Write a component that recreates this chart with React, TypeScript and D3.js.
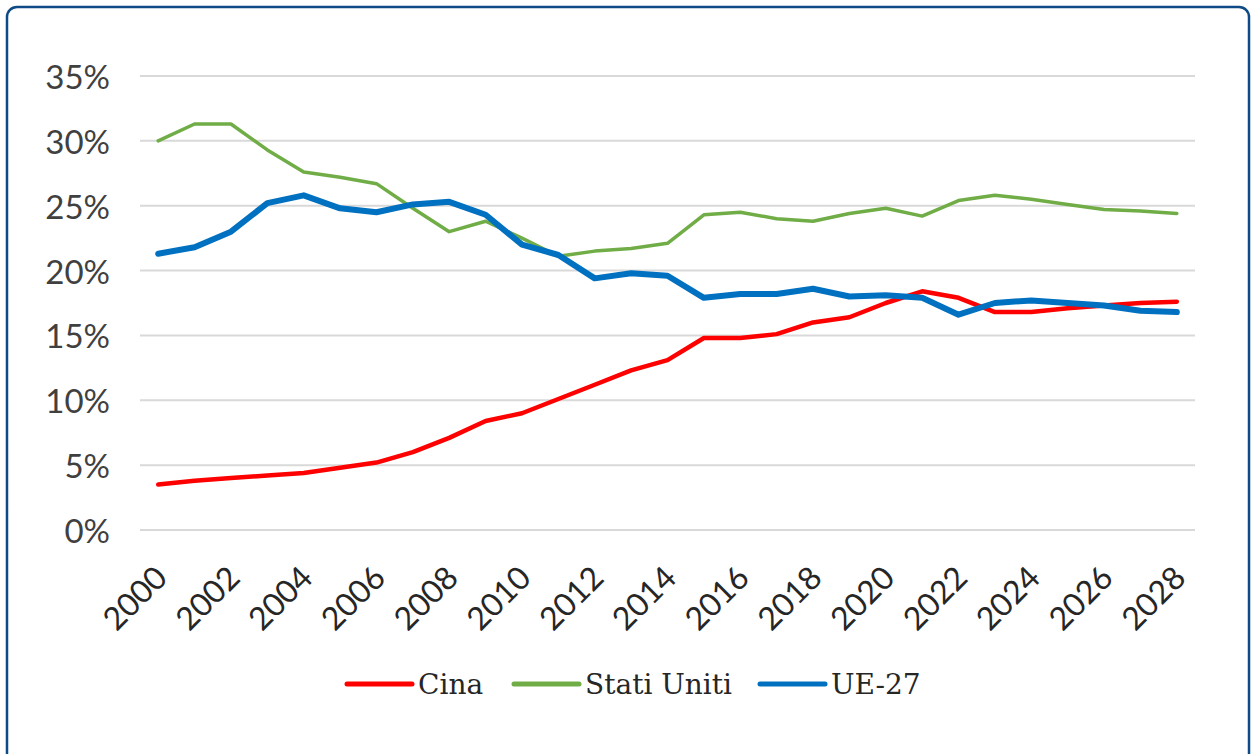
import React from "react";
import { scaleBand, scaleLinear, line } from "d3";

// anni 2000-2028
const years = [
  2000, 2001, 2002, 2003, 2004, 2005, 2006, 2007, 2008, 2009, 2010, 2011,
  2012, 2013, 2014, 2015, 2016, 2017, 2018, 2019, 2020, 2021, 2022, 2023,
  2024, 2025, 2026, 2027, 2028,
];

const cina = [
  3.5, 3.8, 4.0, 4.2, 4.4, 4.8, 5.2, 6.0, 7.1, 8.4, 9.0, 10.1, 11.2, 12.3,
  13.1, 14.8, 14.8, 15.1, 16.0, 16.4, 17.5, 18.4, 17.9, 16.8, 16.8, 17.1,
  17.3, 17.5, 17.6,
];

const statiUniti = [
  30.0, 31.3, 31.3, 29.3, 27.6, 27.2, 26.7, 24.8, 23.0, 23.8, 22.5, 21.1,
  21.5, 21.7, 22.1, 24.3, 24.5, 24.0, 23.8, 24.4, 24.8, 24.2, 25.4, 25.8,
  25.5, 25.1, 24.7, 24.6, 24.4,
];

const ue27 = [
  21.3, 21.8, 23.0, 25.2, 25.8, 24.8, 24.5, 25.1, 25.3, 24.3, 22.0, 21.2,
  19.4, 19.8, 19.6, 17.9, 18.2, 18.2, 18.6, 18.0, 18.1, 17.9, 16.6, 17.5,
  17.7, 17.5, 17.3, 16.9, 16.8,
];

const yTicks = [0, 5, 10, 15, 20, 25, 30, 35];
const xTicks = years.filter((y) => y % 2 === 0);

const series = [
  { name: "Cina", values: cina, color: "#ff0000", width: 4.5 },
  { name: "Stati Uniti", values: statiUniti, color: "#70ad47", width: 3.5 },
  { name: "UE-27", values: ue27, color: "#0070c0", width: 6 },
];

const width = 1251;
const height = 754;
const margin = { left: 140, right: 56, top: 76, bottom: 224 };

// posizione di ogni voce di legenda (larghezza testo stimata)
const legendX = [347, 514, 760];

const App = () => {
  const innerWidth = width - margin.left - margin.right;
  const innerHeight = height - margin.top - margin.bottom;

  const xScale = scaleBand<number>()
    .domain(years)
    .range([margin.left, margin.left + innerWidth]);
  const yScale = scaleLinear()
    .domain([0, 35])
    .range([margin.top + innerHeight, margin.top]);

  const xc = (y: number) => (xScale(y) as number) + xScale.bandwidth() / 2;

  const pathGen = line<number>()
    .x((_, i) => xc(years[i]))
    .y((d) => yScale(d));

  return (
    <svg
      width={width}
      height={height}
      style={{ position: "absolute", left: 0, top: 0, background: "#fff" }}
    >
      <rect
        x={7}
        y={7}
        width={1242}
        height={780}
        rx={10}
        fill="#fff"
        stroke="#0e4b86"
        strokeWidth={2.5}
      />
      {yTicks.map((t) => (
        <g key={t}>
          <line
            x1={margin.left}
            x2={margin.left + innerWidth}
            y1={yScale(t)}
            y2={yScale(t)}
            stroke="#d9d9d9"
            strokeWidth={2}
          />
          <text
            x={110}
            y={yScale(t)}
            textAnchor="end"
            dominantBaseline="central"
            fontFamily="Lato, sans-serif"
            fontSize={33}
            fill="#404040"
          >
            {t}%
          </text>
        </g>
      ))}
      {xTicks.map((t) => (
        <text
          key={t}
          transform={`translate(${xc(t) + 2},${yScale(0) + 41}) rotate(-45)`}
          textAnchor="end"
          dominantBaseline="central"
          fontFamily="Lato, sans-serif"
          fontSize={32}
          fill="#262626"
        >
          {t}
        </text>
      ))}
      {series.map((s) => (
        <path
          key={s.name}
          d={pathGen(s.values) ?? ""}
          fill="none"
          stroke={s.color}
          strokeWidth={s.width}
          strokeLinejoin="round"
          strokeLinecap="round"
        />
      ))}
      {series.map((s, i) => (
        <g key={s.name} transform={`translate(${legendX[i]},684)`}>
          <line
            x1={0}
            x2={65}
            y1={0}
            y2={0}
            stroke={s.color}
            strokeWidth={5}
            strokeLinecap="round"
          />
          <text
            x={71}
            y={0}
            dominantBaseline="central"
            fontFamily="'DejaVu Serif', serif"
            fontSize={28}
            fill="#262626"
          >
            {s.name}
          </text>
        </g>
      ))}
    </svg>
  );
};

export default App;
